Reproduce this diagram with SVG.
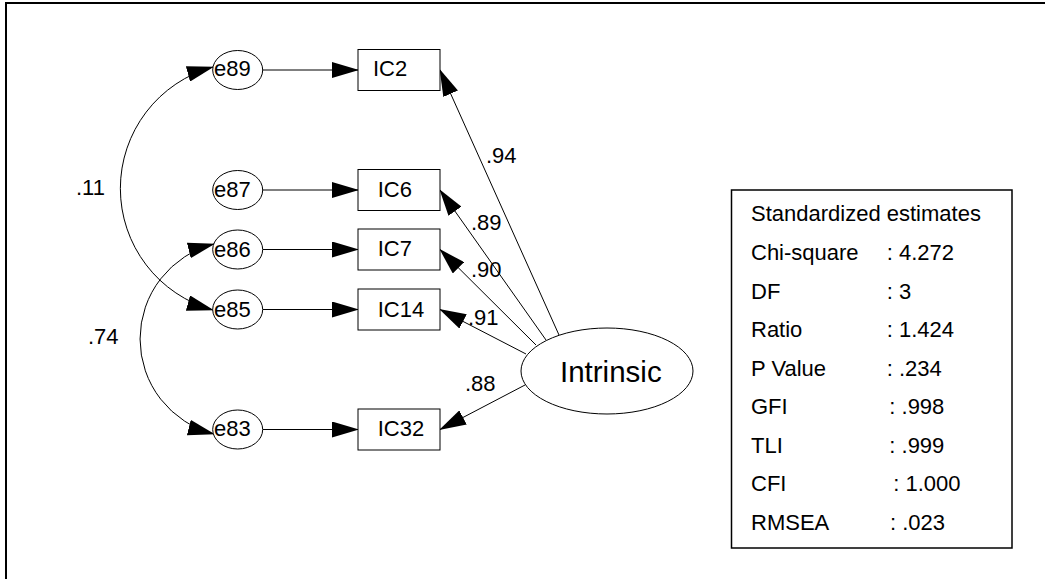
<svg xmlns="http://www.w3.org/2000/svg" width="1045" height="579" viewBox="0 0 1045 579">
<style>
  text { font-family: "Liberation Sans", Arial, sans-serif; font-size: 22px; fill: #000; }
  .box { fill: #fff; stroke: #000; stroke-width: 1; }
  .lat { fill: #fff; stroke: #000; stroke-width: 1; }
  .edge { fill: none; stroke: #000; stroke-width: 1; }
  .arr { marker-end: url(#ah); }
  .cov { marker-start: url(#ah); marker-end: url(#ah); }
</style>
<defs>
  <marker id="ah" viewBox="0 0 27 16" refX="26" refY="8" markerWidth="27" markerHeight="16" markerUnits="userSpaceOnUse" orient="auto-start-reverse">
    <path d="M0,0 L27,8 L0,16 z" fill="#000"/>
  </marker>
</defs>
<rect x="6" y="3" width="1100" height="700" fill="none" stroke="#000" stroke-width="2"/>

<g id="connectors">
  <line class="edge arr" x1="263" y1="70" x2="358" y2="70"/>
  <line class="edge arr" x1="263" y1="190" x2="358" y2="190"/>
  <line class="edge arr" x1="263" y1="249.5" x2="358" y2="249.5"/>
  <line class="edge arr" x1="263" y1="309.5" x2="358" y2="309.5"/>
  <line class="edge arr" x1="263" y1="429.5" x2="358" y2="429.5"/>
  <line class="edge arr" x1="559" y1="335" x2="440" y2="70"/>
  <line class="edge arr" x1="546" y1="340" x2="440" y2="190"/>
  <line class="edge arr" x1="536" y1="345" x2="440" y2="249.5"/>
  <line class="edge arr" x1="526" y1="354" x2="440" y2="309.5"/>
  <line class="edge arr" x1="525" y1="385" x2="440" y2="429.5"/>
  <path class="edge cov" d="M213,67 A126,126 0 0 0 213,310"/>
  <path class="edge cov" d="M214,244 A98,98 0 0 0 214,434"/>
  <text x="76" y="195">.11</text>
  <text x="88" y="344">.74</text>
  <text x="486" y="163">.94</text>
  <text x="471" y="230">.89</text>
  <text x="471" y="277">.90</text>
  <text x="468" y="325">.91</text>
  <text x="465" y="391">.88</text>
</g>

<g id="e89"><ellipse class="lat" cx="237.7" cy="70" rx="25" ry="19.5"/><text x="214" y="76">e89</text></g>
<g id="e87"><ellipse class="lat" cx="237.7" cy="190" rx="25" ry="19.5"/><text x="214" y="196.5">e87</text></g>
<g id="e86"><ellipse class="lat" cx="237.7" cy="249.5" rx="25" ry="19.5"/><text x="214" y="256.5">e86</text></g>
<g id="e85"><ellipse class="lat" cx="237.7" cy="309.5" rx="25" ry="19.5"/><text x="214" y="316.5">e85</text></g>
<g id="e83"><ellipse class="lat" cx="237.7" cy="429.5" rx="25" ry="19.5"/><text x="214" y="435.5">e83</text></g>

<g id="IC2"><rect class="box" x="358" y="49.5" width="82" height="41"/><text x="373" y="76">IC2</text></g>
<g id="IC6"><rect class="box" x="358" y="169.5" width="82" height="41"/><text x="377.7" y="196.5">IC6</text></g>
<g id="IC7"><rect class="box" x="358" y="229" width="82" height="41"/><text x="377.7" y="256">IC7</text></g>
<g id="IC14"><rect class="box" x="358" y="289" width="82" height="41"/><text x="377.7" y="316.5">IC14</text></g>
<g id="IC32"><rect class="box" x="358" y="409" width="82" height="41"/><text x="377.7" y="436">IC32</text></g>

<g id="Intrinsic"><ellipse class="lat" cx="607" cy="371" rx="86" ry="43"/><text x="560" y="382" style="font-size:29.5px">Intrinsic</text></g>

<g id="stats">
  <rect x="731.5" y="190" width="280.5" height="358" fill="#fff" stroke="#000" stroke-width="1.5"/>
  <text x="751" y="221">Standardized estimates</text>
  <text x="751" y="260">Chi-square</text><text x="886.7" y="260">: 4.272</text>
  <text x="751" y="298.5">DF</text><text x="886.7" y="298.5">: 3</text>
  <text x="751" y="337">Ratio</text><text x="886.7" y="337">: 1.424</text>
  <text x="751" y="375.5">P Value</text><text x="886.7" y="375.5">: .234</text>
  <text x="751" y="414">GFI</text><text x="889.3" y="414">: .998</text>
  <text x="751" y="452.5">TLI</text><text x="889.3" y="452.5">: .999</text>
  <text x="751" y="491">CFI</text><text x="893.3" y="491">: 1.000</text>
  <text x="751" y="529.5">RMSEA</text><text x="890" y="529.5">: .023</text>
</g>
</svg>
